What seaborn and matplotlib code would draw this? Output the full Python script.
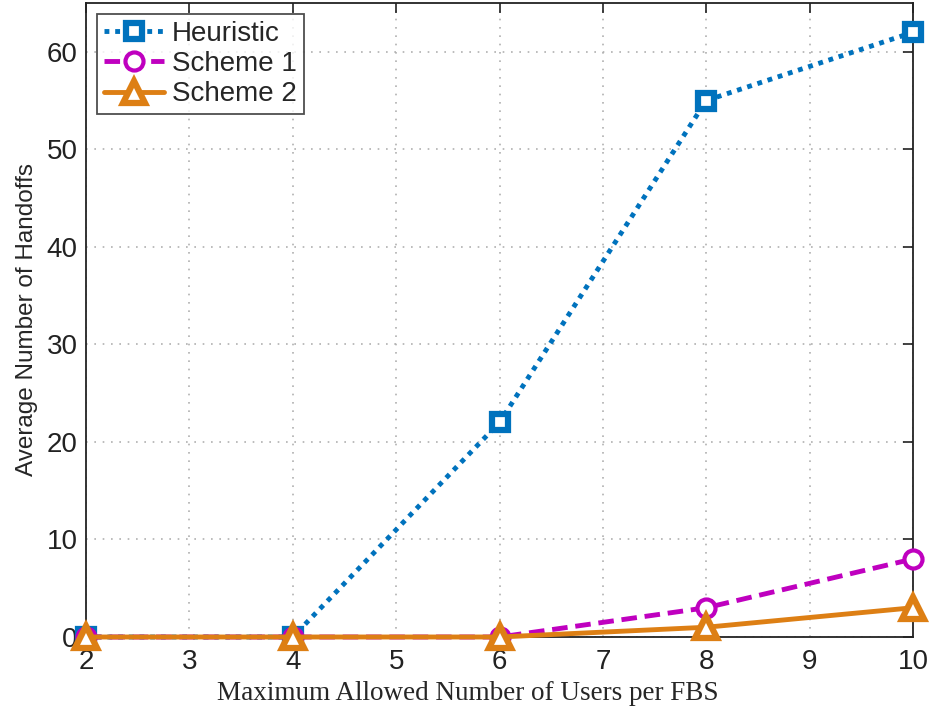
import matplotlib
matplotlib.use("Agg")
import matplotlib.pyplot as plt
import seaborn as sns
import pandas as pd

x_users = [2, 4, 6, 8, 10]
heuristic = [0, 0, 22, 55, 62]
scheme1 = [0, 0, 0, 3, 8]
scheme2 = [0, 0, 0, 1, 3]
series_names = ["Heuristic", "Scheme 1", "Scheme 2"]

sns.set_theme(style="white")
plt.rcParams['font.family'] = ['Liberation Sans', 'DejaVu Sans']

fig = plt.figure(figsize=(9.33, 7.13), dpi=100)
ax = fig.add_axes([0.0922, 0.1066, 0.8864, 0.8892])

styles = [
    dict(color="#0072BD", marker="s", linestyle=(0, (1.0, 1.2)), ms=11, mew=4.5),
    dict(color="#BF00BF", marker="o", linestyle=(0, (3.2, 1.6)), ms=13, mew=3),
    dict(color="#DD7F14", marker="^", linestyle="-", ms=16, mew=4.5),
]
for name, vals, st in zip(series_names, [heuristic, scheme1, scheme2], styles):
    df = pd.DataFrame({"x": x_users, "y": vals})
    sns.lineplot(data=df, x="x", y="y", ax=ax, color=st["color"], marker=st["marker"],
                 linestyle=st["linestyle"], linewidth=3.5, markersize=st["ms"],
                 markerfacecolor="white", markeredgecolor=st["color"], markeredgewidth=st["mew"],
                 label=name, clip_on=False, zorder=3)

ax.set_xlim(2, 10)
ax.set_ylim(0, 65)
ax.set_xticks(range(2, 11))
ax.set_yticks(range(0, 61, 10))
ax.grid(True, color="#b0b0b0", linestyle=(0, (1, 4)), linewidth=1.2)
ax.tick_params(direction="in", length=7, width=1.2, labelsize=20, top=True, right=True,
               colors="#222222")
ax.tick_params(axis="x", pad=9)
ax.tick_params(axis="y", pad=6)
for sp in ax.spines.values():
    sp.set_visible(True)
    sp.set_color("#222222")
    sp.set_linewidth(1.3)

ax.set_xlabel("Maximum Allowed Number of Users per FBS", fontsize=19.5,
              family=["Liberation Serif", "DejaVu Serif"])
ax.xaxis.set_label_coords(0.462, -0.069)
ax.set_ylabel("Average Number of Handoffs", fontsize=17.5, labelpad=6)

leg = ax.legend(loc="upper left", fontsize=20, frameon=True, fancybox=False,
                edgecolor="#222222", handlelength=2.15, borderpad=0.25, labelspacing=0.15,
                handletextpad=0.3, borderaxespad=0.4)
leg.get_frame().set_linewidth(1.3)

fig.savefig("out.png", dpi=100)
